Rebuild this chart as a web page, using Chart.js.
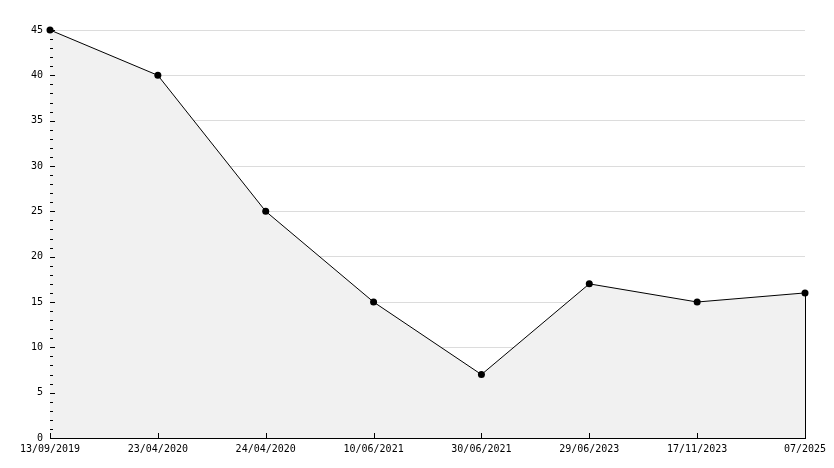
<!DOCTYPE html>
<html>
<head>
<meta charset="utf-8">
<script src="https://cdn.jsdelivr.net/npm/chart.js@4"></script>
<style>
  html, body { margin: 0; padding: 0; background: #fff; }
  #wrap { width: 834px; height: 468px; }
</style>
</head>
<body>
<div id="wrap"><canvas id="chart" width="834" height="468"></canvas></div>
<script>
// ====== DATA ======
const dates = ['13/09/2019', '23/04/2020', '24/04/2020', '10/06/2021', '30/06/2021', '29/06/2023', '17/11/2023', '07/2025'];
const values = [45, 40, 25, 15, 7, 17, 15, 16];
const yMax = 45, yStep = 5, yMinorStep = 1;

// ====== TICKS INSIDE THE PLOT ======
// draws axis ticks pointing into the chart, plus the closing edge of the fill
const innerTicks = {
  id: 'innerTicks',
  afterDatasetsDraw(chart) {
    const { ctx, chartArea: a, scales: { x, y } } = chart;
    ctx.save();
    ctx.strokeStyle = '#000';
    ctx.lineWidth = 1;
    ctx.beginPath();
    for (let v = 0; v <= yMax; v += yMinorStep) {
      const py = Math.round(y.getPixelForValue(v)) + 0.5;
      const len = v % yStep === 0 ? 5 : 3;
      ctx.moveTo(a.left, py);
      ctx.lineTo(a.left + len, py);
    }
    dates.forEach((d, i) => {
      const px = Math.round(x.getPixelForValue(i)) + 0.5;
      ctx.moveTo(px, a.bottom);
      ctx.lineTo(px, a.bottom - 5);
    });
    // right edge of the filled area
    const last = values.length - 1;
    const ex = Math.round(x.getPixelForValue(last)) + 0.5;
    ctx.moveTo(ex, y.getPixelForValue(values[last]));
    ctx.lineTo(ex, y.getPixelForValue(0));
    ctx.stroke();
    ctx.restore();
  }
};

Chart.defaults.font.family = '"DejaVu Sans Mono", monospace';
Chart.defaults.font.size = 10;
Chart.defaults.color = '#000';

new Chart(document.getElementById('chart'), {
  type: 'line',
  data: {
    labels: dates,
    datasets: [{
      data: values,
      borderColor: '#000',
      borderWidth: 1,
      backgroundColor: '#f1f1f1',
      fill: 'origin',
      tension: 0,
      clip: false,
      pointRadius: 3.5,
      pointBackgroundColor: '#000',
      pointBorderColor: '#000',
      pointBorderWidth: 0,
    }]
  },
  options: {
    responsive: false,
    animation: false,
    layout: { padding: { top: 30, right: 29, left: 0, bottom: 0 } },
    plugins: { legend: { display: false }, tooltip: { enabled: false } },
    scales: {
      x: {
        offset: false,
        grid: { display: false, drawTicks: false },
        border: { color: '#000', width: 1 },
        ticks: { padding: 5, maxRotation: 0, autoSkip: false },
        afterFit: s => { s.height = 30; }
      },
      y: {
        min: 0, max: yMax,
        grid: { color: '#dcdcdc', drawTicks: false },
        border: { color: '#000', width: 1 },
        ticks: { stepSize: yStep, padding: 7 },
        afterFit: s => { s.width = 50; }
      }
    }
  },
  plugins: [innerTicks]
});
</script>
</body>
</html>
